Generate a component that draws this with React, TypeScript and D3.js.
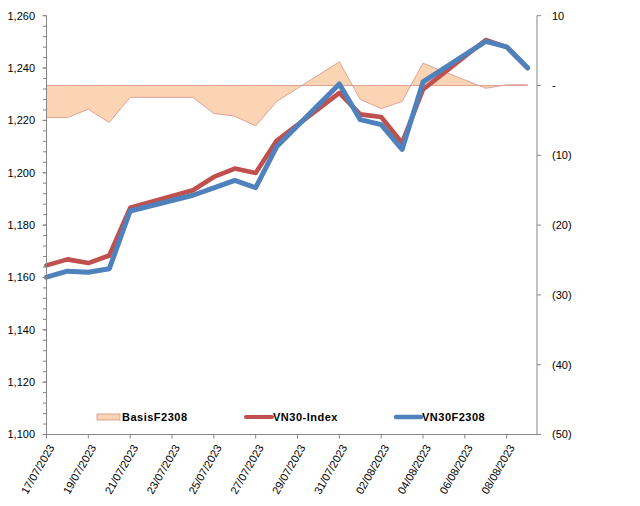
import React from "react";
import * as d3 from "d3";

// Trading sessions
const dates = [
  "17/07/2023", "18/07/2023", "19/07/2023", "20/07/2023", "21/07/2023",
  "24/07/2023", "25/07/2023", "26/07/2023", "27/07/2023", "28/07/2023",
  "31/07/2023", "01/08/2023", "02/08/2023", "03/08/2023", "04/08/2023",
  "07/08/2023", "08/08/2023", "09/08/2023",
];

// VN30 index close
const vn30Index = [
  1164.6, 1166.9, 1165.5, 1168.4, 1186.6,
  1193.3, 1198.4, 1201.6, 1199.9, 1212.2,
  1230.5, 1222.3, 1221.3, 1211.4, 1231.8,
  1250.7, 1248.0, 1240.0,
];

// VN30F2308 futures close
const vn30F2308 = [
  1160.1, 1162.4, 1162.0, 1163.3, 1185.4,
  1191.4, 1194.2, 1197.1, 1194.3, 1209.9,
  1233.9, 1220.3, 1218.4, 1208.9, 1234.7,
  1250.2, 1248.1, 1240.1,
];

// Basis (futures - index), right axis
const basisF2308 = [
  -4.6, -4.6, -3.4, -5.3, -1.7,
  -1.7, -4.0, -4.4, -5.8, -2.3,
  3.4, -2.0, -3.3, -2.3, 3.2,
  -0.4, 0.1, 0.1,
];

const leftTicks = [1100, 1120, 1140, 1160, 1180, 1200, 1220, 1240, 1260];
const rightTicks = [-50, -40, -30, -20, -10, 0, 10];

const W = 640;
const H = 506;
const plotLeft = 46.5;
const plotRight = 537;
const plotTop = 15.7;
const plotBottom = 434.5;

const FONT = "Arial, 'Liberation Sans', sans-serif";
const AXIS = "#868686";
const RED = "#C0504D";
const BLUE = "#4F81BD";
const AREA_FILL = "#FBD4B4";
const AREA_STROKE = "#DB9A8C";

const parse = d3.timeParse("%d/%m/%Y");
const fmtDate = d3.timeFormat("%d/%m/%Y");
const fmtLeft = d3.format(",.0f");
const fmtRight = (v: number) =>
  v === 0 ? "-" : v < 0 ? `(${Math.abs(v)})` : `${v}`;

export default function App() {
  const parsed = dates.map((s) => parse(s) as Date);
  const start = parsed[0];
  const end = new Date(start.getTime() + 23.45 * 86400000);

  const x = d3.scaleTime().domain([start, end]).range([plotLeft, plotRight]);
  const yL = d3.scaleLinear().domain([1100, 1260]).range([plotBottom, plotTop]);
  const yR = d3.scaleLinear().domain([-50, 10]).range([plotBottom, plotTop]);

  const xTicks = d3.timeDay.range(start, d3.timeDay.offset(parsed[parsed.length - 1], 0), 2);
  const minorLeft = d3.range(1100, 1260.001, 4);

  const line = d3
    .line<number>()
    .x((_, i) => x(parsed[i]))
    .y((d) => yL(d));

  const area = d3
    .area<number>()
    .x((_, i) => x(parsed[i]))
    .y0(yR(0))
    .y1((d) => yR(d));

  const legendY = 417;

  return (
    <svg
      width={W}
      height={H}
      style={{ position: "absolute", left: 0, top: 0, background: "#fff" }}
      fontFamily={FONT}
    >
      <rect width={W} height={H} fill="#fff" />

      {/* basis area on secondary axis */}
      <path d={area(basisF2308) || ""} fill={AREA_FILL} stroke={AREA_STROKE} strokeWidth={0.9} />

      {/* index and futures lines */}
      <path
        d={line(vn30Index) || ""}
        fill="none"
        stroke={RED}
        strokeWidth={4.6}
        strokeLinejoin="round"
        strokeLinecap="round"
      />
      <path
        d={line(vn30F2308) || ""}
        fill="none"
        stroke={BLUE}
        strokeWidth={5}
        strokeLinejoin="round"
        strokeLinecap="round"
      />

      {/* left axis */}
      <line x1={plotLeft} x2={plotLeft} y1={plotTop} y2={plotBottom} stroke={AXIS} strokeWidth={1} />
      {minorLeft.map((v) => (
        <line key={"m" + v} x1={plotLeft - 3.5} x2={plotLeft} y1={yL(v)} y2={yL(v)} stroke={AXIS} strokeWidth={1} />
      ))}
      {leftTicks.map((v) => (
        <g key={"l" + v}>
          <line x1={plotLeft - 4} x2={plotLeft} y1={yL(v)} y2={yL(v)} stroke={AXIS} strokeWidth={1} />
          <text x={35} y={yL(v)} dy="0.35em" textAnchor="end" fontSize={11} fill="#000">
            {fmtLeft(v)}
          </text>
        </g>
      ))}

      {/* right axis */}
      <line x1={plotRight} x2={plotRight} y1={plotTop} y2={plotBottom} stroke={AXIS} strokeWidth={1} />
      {rightTicks.map((v) => (
        <g key={"r" + v}>
          <line x1={plotRight} x2={plotRight + 4} y1={yR(v)} y2={yR(v)} stroke={AXIS} strokeWidth={1} />
          <text x={552} y={yR(v)} dy="0.35em" textAnchor="start" fontSize={11} fill="#000">
            {fmtRight(v)}
          </text>
        </g>
      ))}

      {/* bottom axis */}
      <line x1={plotLeft} x2={plotRight} y1={plotBottom} y2={plotBottom} stroke={AXIS} strokeWidth={1} />
      {xTicks.map((d) => (
        <g key={d.getTime()}>
          <line x1={x(d)} x2={x(d)} y1={plotBottom} y2={plotBottom + 4} stroke={AXIS} strokeWidth={1} />
          <text
            transform={`translate(${x(d) + 5},${plotBottom + 11}) rotate(-60)`}
            textAnchor="end"
            dy="0.35em"
            fontSize={11}
            fill="#000"
          >
            {fmtDate(d)}
          </text>
        </g>
      ))}

      {/* legend */}
      <g fontSize={11} fontWeight="bold" fill="#000" letterSpacing={0.5}>
        <rect x={97} y={legendY - 3} width={23} height={6} fill={AREA_FILL} stroke={AREA_STROKE} strokeWidth={0.9} />
        <text x={122} y={legendY} dy="0.35em">BasisF2308</text>
        <line x1={246} x2={272} y1={legendY} y2={legendY} stroke={RED} strokeWidth={4} strokeLinecap="round" />
        <text x={273} y={legendY} dy="0.35em">VN30-Index</text>
        <line x1={396} x2={421} y1={legendY} y2={legendY} stroke={BLUE} strokeWidth={4.5} strokeLinecap="round" />
        <text x={422} y={legendY} dy="0.35em">VN30F2308</text>
      </g>
    </svg>
  );
}
